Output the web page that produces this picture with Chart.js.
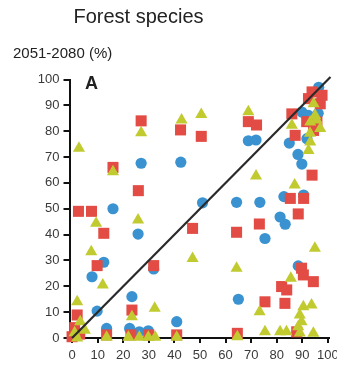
<!DOCTYPE html>
<html>
<head>
<meta charset="utf-8">
<script src="https://cdn.jsdelivr.net/npm/chart.js@4"></script>
<style>
    body { margin: 0; background: #fff; }
    #graph { display: block; }
</style>
</head>
<body>
<canvas id="graph" width="337" height="367"></canvas>
<script>
// values: [x, y] in %
const blueCircles = [
    [16, 50], [27, 67.6], [42.5, 68], [25.8, 40.2], [12.4, 29.3], [7.8, 23.7],
    [31.9, 26.7], [9.8, 10.4], [23.4, 16], [13.5, 3.7], [22.5, 3.7], [26.3, 2.4],
    [29.8, 2.8], [40.9, 6.3], [51, 52.3], [64.3, 52.5], [73.4, 52.5], [68.9, 76.3],
    [71.9, 76.6], [65, 15], [75.4, 38.5], [81.3, 46.8], [83.3, 44], [82.8, 54.7],
    [90.5, 55.3], [88.4, 27.9], [84.9, 75.4], [88.3, 71], [89.8, 67.3], [91.8, 77.1],
    [89.8, 87.4], [92.4, 86.1], [96.4, 97], [96.2, 86.9]
]
const redSquares = [
    [2.5, 49], [7.6, 49], [12.4, 40.5], [16, 66], [25.9, 57], [27, 84],
    [42.4, 80.5], [50.5, 78], [9.8, 28], [31.9, 28], [23.4, 10.8], [2, 8.9],
    [1, 4], [3, 1.5], [0, 0.5], [13.5, 1.2], [23, 1.2], [30, 1.2],
    [40.9, 1.2], [47.1, 42.4], [64.3, 40.9], [64.6, 1.8], [68.9, 83.7], [72.1, 82.4],
    [73.2, 44.1], [75.4, 14], [81.9, 19.9], [83.9, 18.6], [83.2, 13.4], [89.7, 27],
    [90.4, 24.4], [94.3, 21.8], [87.8, 2.4], [88.4, 48], [85.3, 54], [90.5, 54],
    [93.8, 63], [87.2, 78.4], [85.9, 86.7], [94.4, 80.3], [95.7, 83.6], [91.7, 83.7],
    [93.8, 95.2], [97.7, 93.9], [92.4, 92.6], [97, 90.6]
]
const greenTriangles = [
    [2.7, 73.4], [27, 79.4], [16, 64.3], [42.8, 84.3], [50.5, 86.5], [9.4, 44.4],
    [25.8, 45.6], [7.5, 33.4], [12, 20.5], [32.3, 11.5], [23.4, 8.2], [2, 14],
    [3.2, 6.3], [1, 2], [2, 0], [5, 3], [13.5, 0.3], [22, 0.3],
    [26.3, 0.3], [29.8, 0.3], [32.5, 0.3], [40.9, 0.3], [47.1, 30.8], [64.3, 27],
    [64.6, 0.5], [68.9, 87.5], [71.9, 62.7], [73.3, 10.2], [75.4, 2.4], [81.3, 2.4],
    [83.8, 2.4], [89, 1.9], [94.3, 1.8], [85.5, 23.1], [94.9, 34.7], [90.4, 12.1],
    [93.6, 12.8], [89, 8.9], [89.7, 6.3], [88.4, 4.4], [87, 59.2], [85.9, 82.3],
    [92.4, 72.5], [93.1, 75.8], [93, 79.2], [93.1, 83.6], [95, 86.1], [97, 81],
    [94.4, 90.6], [95.6, 84.3]
]
const diagonal = [[0, 0], [101, 101]]
const xTicks = [0, 10, 20, 30, 40, 50, 60, 70, 80, 90, 100]
const yTicks = [0, 10, 20, 30, 40, 50, 60, 70, 80, 90, 100]

const font = "'Liberation Sans', Arial, sans-serif"
const toXY = arr => arr.map(p => ({ x: p[0], y: p[1] }))

const textLabels = {
    id: 'textLabels',
    afterDraw(chart) {
        let c = chart.ctx
        c.save()
        c.fillStyle = '#222'
        c.textBaseline = 'alphabetic'
        c.font = '20px ' + font
        c.textAlign = 'center'
        c.fillText('Forest species', 138.5, 23)
        c.font = '15px ' + font
        c.textAlign = 'left'
        c.fillText('2051-2080 (%)', 13, 58)
        c.font = 'bold 18px ' + font
        c.fillText('A', 85, 89)
        c.restore()
    }
}

let ctx = document.getElementById('graph').getContext('2d')
new Chart(ctx, {
    type: 'scatter',
    data: {
        datasets: [{
            type: 'line',
            data: toXY(diagonal),
            borderColor: '#2a2a2a',
            borderWidth: 2.2,
            pointRadius: 0,
            clip: false,
            order: 0
        }, {
            data: toXY(greenTriangles),
            pointStyle: 'triangle',
            pointRadius: 7,
            backgroundColor: 'rgb(193, 203, 48)',
            borderWidth: 0,
            clip: false,
            order: 1
        }, {
            data: toXY(redSquares),
            pointStyle: 'rect',
            pointRadius: 7.8,
            backgroundColor: 'rgb(226, 76, 68)',
            borderWidth: 0,
            clip: false,
            order: 2
        }, {
            data: toXY(blueCircles),
            pointStyle: 'circle',
            pointRadius: 5.6,
            backgroundColor: 'rgb(58, 147, 208)',
            borderWidth: 0,
            clip: false,
            order: 3
        }]
    },
    options: {
        responsive: false,
        animation: false,
        events: [],
        layout: {
            padding: { top: 79.5, right: 7.7, left: 0, bottom: 0 }
        },
        plugins: {
            legend: { display: false },
            tooltip: { enabled: false }
        },
        scales: {
            x: {
                type: 'linear',
                min: -1,
                max: 100.5,
                afterBuildTicks: s => { s.ticks = xTicks.map(v => ({ value: v })) },
                afterFit: s => {
                    s.height = 29
                    s.paddingLeft = 0
                    s.paddingRight = 0
                },
                grid: { drawOnChartArea: false, tickLength: 5, color: '#111', lineWidth: 2 },
                border: { display: true, color: '#111', width: 2 },
                ticks: { color: '#3a3a3a', font: { family: font, size: 13 }, padding: 5, maxRotation: 0, autoSkip: false }
            },
            y: {
                min: 0,
                max: 100,
                afterBuildTicks: s => { s.ticks = yTicks.map(v => ({ value: v })) },
                afterFit: s => {
                    s.width = 69.5
                    s.paddingTop = 0
                    s.paddingBottom = 0
                },
                grid: { drawOnChartArea: false, tickLength: 6, color: '#111', lineWidth: 2 },
                border: { display: true, color: '#111', width: 2 },
                ticks: { color: '#3a3a3a', font: { family: font, size: 13 }, padding: 4 }
            }
        }
    },
    plugins: [textLabels]
});
</script>
</body>
</html>
